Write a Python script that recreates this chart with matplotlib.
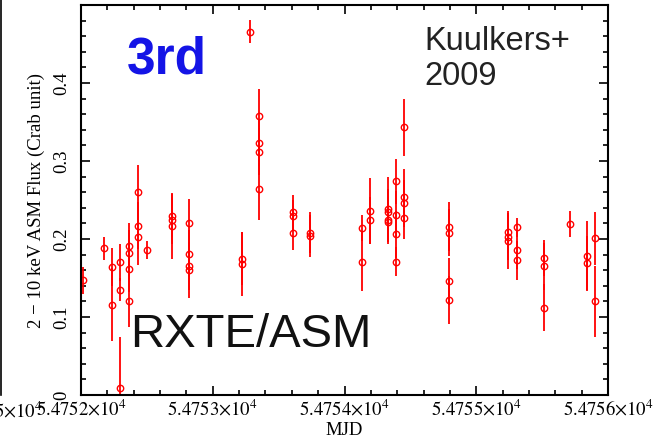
import matplotlib
matplotlib.use("Agg")
import matplotlib.pyplot as plt
from matplotlib.ticker import MultipleLocator, FixedLocator, FixedFormatter
from matplotlib.lines import Line2D

# RXTE/ASM 2-10 keV dwell fluxes (Crab units) with 1-sigma errors
mjd = [54752.015, 54752.175,
       54752.233, 54752.233,
       54752.298, 54752.298, 54752.298,
       54752.364, 54752.364, 54752.364, 54752.364,
       54752.430, 54752.430, 54752.430,
       54752.498,
       54752.690, 54752.690, 54752.690,
       54752.819, 54752.819, 54752.819, 54752.819,
       54753.219, 54753.219,
       54753.282,
       54753.351, 54753.351, 54753.351, 54753.351,
       54753.606, 54753.606, 54753.606,
       54753.737, 54753.737,
       54754.134, 54754.134,
       54754.193, 54754.193,
       54754.329, 54754.329, 54754.329, 54754.329,
       54754.392, 54754.392, 54754.392, 54754.392,
       54754.455, 54754.455, 54754.455, 54754.455,
       54754.792, 54754.792, 54754.792, 54754.792,
       54755.242, 54755.242, 54755.242,
       54755.310, 54755.310, 54755.310,
       54755.513, 54755.513, 54755.513,
       54755.710,
       54755.837, 54755.837,
       54755.902, 54755.902]
flux = [0.147, 0.188,
        0.164, 0.116,
        0.170, 0.135, 0.009,
        0.191, 0.182, 0.162, 0.121,
        0.260, 0.217, 0.202,
        0.186,
        0.230, 0.224, 0.217,
        0.221, 0.181, 0.165, 0.160,
        0.175, 0.168,
        0.466,
        0.358, 0.323, 0.312, 0.264,
        0.234, 0.230, 0.208,
        0.208, 0.204,
        0.214, 0.171,
        0.236, 0.224,
        0.239, 0.234, 0.224, 0.222,
        0.274, 0.231, 0.206, 0.171,
        0.343, 0.254, 0.246, 0.227,
        0.216, 0.208, 0.146, 0.122,
        0.209, 0.203, 0.197,
        0.215, 0.186, 0.173,
        0.176, 0.165, 0.112,
        0.219,
        0.178, 0.169,
        0.201, 0.120]
err = [0.017, 0.015,
       0.024, 0.047,
       0.024, 0.015, 0.066,
       0.029, 0.030, 0.030, 0.034,
       0.035, 0.030, 0.035,
       0.012,
       0.028, 0.030, 0.042,
       0.030, 0.030, 0.030, 0.036,
       0.034, 0.041,
       0.015,
       0.034, 0.030, 0.030, 0.039,
       0.023, 0.020, 0.022,
       0.026, 0.027,
       0.017, 0.038,
       0.042, 0.030,
       0.041, 0.030, 0.030, 0.026,
       0.029, 0.030, 0.030, 0.019,
       0.037, 0.036, 0.030, 0.027,
       0.032, 0.030, 0.030, 0.031,
       0.027, 0.030, 0.036,
       0.012, 0.025, 0.025,
       0.023, 0.030, 0.030,
       0.017,
       0.045, 0.035,
       0.034, 0.046]

x_ticks = [54752, 54753, 54754, 54755, 54756]
x_ticklabels = [r"$5.4752{\times}10^{4}$", r"$5.4753{\times}10^{4}$",
                r"$5.4754{\times}10^{4}$", r"$5.4755{\times}10^{4}$",
                r"$5.4756{\times}10^{4}$"]
y_ticks = [0, 0.1, 0.2, 0.3, 0.4]
y_ticklabels = ["0", "0.1", "0.2", "0.3", "0.4"]

plt.rcParams["mathtext.fontset"] = "stix"
plt.rcParams["font.family"] = ["Liberation Serif", "DejaVu Serif"]

W, H = 661, 443
fig = plt.figure(figsize=(W / 100, H / 100), dpi=100)
ax = fig.add_axes([81 / W, 48 / H, 527 / W, 390 / H])

ax.errorbar(mjd, flux, yerr=err, fmt="o", mfc="none", mec="red",
            ecolor="red", ms=4.6, mew=1.0, elinewidth=1.3, capsize=0,
            color="red")

ax.set_xlim(54752, 54756)
ax.set_ylim(0, 0.5)

ax.xaxis.set_major_locator(FixedLocator(x_ticks))
ax.xaxis.set_major_formatter(FixedFormatter(x_ticklabels))
ax.xaxis.set_minor_locator(MultipleLocator(0.2))
ax.yaxis.set_major_locator(FixedLocator(y_ticks))
ax.yaxis.set_major_formatter(FixedFormatter(y_ticklabels))
ax.yaxis.set_minor_locator(MultipleLocator(0.02))

ax.tick_params(which="both", direction="in", top=True, right=True,
               width=1.2, colors="black")
ax.tick_params(which="major", length=6.5)
ax.tick_params(which="minor", length=3.3)
ax.tick_params(axis="x", labelsize=13.5, pad=3)
ax.tick_params(axis="y", labelsize=13.5, pad=8)
for lab in ax.get_yticklabels():
    lab.set_rotation(90)
    lab.set_va("center")

for sp in ax.spines.values():
    sp.set_linewidth(1.5)

ax.set_xlabel("MJD", fontsize=13.5, labelpad=2)
ax.set_ylabel("2 \u2212 10 keV ASM Flux (Crab unit)", fontsize=13.5,
              labelpad=6)

sans = ["Liberation Sans", "DejaVu Sans"]

# annotations inside the panel
fig.text(127 / W, 1 - 73 / H, "3rd", fontsize=37, fontweight="bold",
         color="#1414e6", family=sans, va="baseline")
fig.text(424 / W, 1 - 50 / H, "Kuulkers+", fontsize=23.5,
         color="#222222", family=sans, va="baseline")
fig.text(424 / W, 1 - 85 / H, "2009", fontsize=23.5,
         color="#222222", family=sans, va="baseline")
fig.text(130 / W, 1 - 347 / H, "RXTE/ASM", fontsize=34,
         color="#111111", family=sans, va="baseline")

# edge of the neighbouring panel on the left
fig.add_artist(Line2D([1 / W, 1 / W], [48 / H, 1.0],
                      transform=fig.transFigure, color="black", lw=1.2))
fig.text(-6 / W, 1 - 418 / H, r"$5{\times}10^{4}$", fontsize=13.5,
         va="baseline", ha="left")

fig.savefig("out.png", dpi=100)
